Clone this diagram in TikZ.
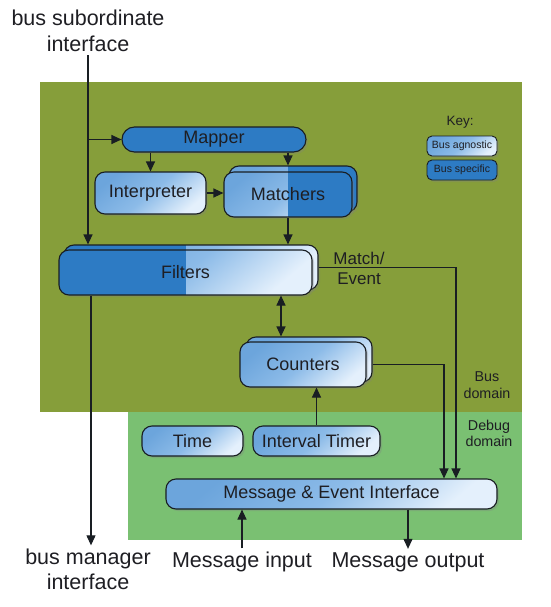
\documentclass[tikz,border=0pt]{standalone}
\usepackage{fontspec}
\setmainfont{Liberation Sans}
\usetikzlibrary{shadows,arrows.meta}
\definecolor{olivebg}{RGB}{134,158,58}
\definecolor{dbgbg}{RGB}{122,192,114}
\definecolor{dkblue}{RGB}{45,123,196}
\definecolor{ltA}{RGB}{108,165,220}
\definecolor{ltM}{RGB}{140,187,232}
\definecolor{ltB}{RGB}{228,240,252}
\definecolor{edgec}{RGB}{25,30,35}
\definecolor{txt}{RGB}{30,30,35}
\begin{document}
\begin{tikzpicture}[x=1pt,y=-1pt,
  blk/.style={draw=edgec, line width=1.1pt, rounded corners=10pt, inner sep=0pt, text=txt,
    font=\fontsize{18}{21}\selectfont,
    drop shadow={opacity=0.3, shadow xshift=2pt, shadow yshift=-2pt}},
  light/.style={blk, top color=ltA, bottom color=ltB, middle color=ltM, shading angle=40},
  dark/.style={blk, fill=dkblue},
  keybox/.style={rounded corners=5pt, minimum width=70pt, minimum height=20pt, line width=0.9pt,
    font=\fontsize{10.5}{12}\selectfont},
  outer/.style={align=center, text=txt, font=\fontsize{21.5}{25.5}\selectfont},
  dom/.style={align=center, text=txt, font=\fontsize{14.3}{16.5}\selectfont},
  arr/.style={draw=edgec, line width=1.1pt, -{Triangle[length=10pt,width=9pt]}},
  darr/.style={draw=edgec, line width=1.1pt, {Triangle[length=10pt,width=9pt]}-{Triangle[length=10pt,width=9pt]}}
]
\useasboundingbox (0,0) rectangle (550,607);
\fill[olivebg] (40,82) rectangle (522,412);
\fill[dbgbg] (128,412) rectangle (522,540);

% outer labels
\node[outer] (sub) at (88,31) {bus subordinate\\interface};
\node[outer] (mgr) at (88,569.5) {bus manager\\interface};
\node[outer] (minp) at (242,562) {Message input};
\node[outer] (mout) at (408,562) {Message output};

% blocks
\node[dark, rounded corners=12.5pt, minimum width=184pt, minimum height=25pt] (mapper) at (214,139.5) {Mapper};
\node[light, minimum width=111pt, minimum height=42pt] (interp) at (150.5,193) {Interpreter};
\node[light, minimum width=128pt, minimum height=46pt,
  path picture={\fill[dkblue, sharp corners] ([xshift=-5pt]path picture bounding box.north) rectangle (path picture bounding box.south east);}] (matchersB) at (293,189) {};
\node[light, minimum width=128pt, minimum height=45pt,
  path picture={\fill[dkblue, sharp corners] (path picture bounding box.north) rectangle (path picture bounding box.south east);}] (matchers) at (288,194.5) {Matchers};
\node[light, minimum width=254pt, minimum height=45pt,
  path picture={\fill[dkblue, sharp corners] (path picture bounding box.south west) rectangle ([xshift=-5pt]path picture bounding box.north);}] (filtersB) at (191,267.5) {};
\node[light, minimum width=253pt, minimum height=45pt,
  path picture={\fill[dkblue, sharp corners] (path picture bounding box.south west) rectangle (path picture bounding box.north);}] (filters) at (185.5,272.5) {Filters};
\node[light, minimum width=126pt, minimum height=45pt] (countersB) at (309,359.5) {};
\node[light, minimum width=126pt, minimum height=45pt] (counters) at (303,364.5) {Counters};
\node[light, minimum width=101pt, minimum height=30pt] (time) at (192.5,441) {Time};
\node[light, minimum width=127pt, minimum height=30pt] (itimer) at (316.5,441) {Interval Timer};
\node[light, minimum width=331pt, minimum height=30pt] (mei) at (331.5,494) {Message \& Event Interface};

% key
\node[text=txt, font=\fontsize{13.5}{16}\selectfont] (key) at (460,122) {Key:};
\node[light, keybox] (kag) at (462,146) {Bus agnostic};
\node[dark, keybox] (ksp) at (462,170) {Bus specific};

% domain labels
\node[dom] (busd) at (487,385) {Bus\\domain};
\node[dom] (dbgd) at (489,433.5) {Debug\\domain};
\node[text=txt, align=center, font=\fontsize{17}{20}\selectfont] (me) at (359,268) {Match/\\Event};

% connectors
\draw[arr] (sub.south) -- (sub.south |- filtersB.north);
\draw[arr] (sub.south |- mapper.west) -- (mapper.west);
\draw[arr] (interp.north |- mapper.south) -- (interp.north);
\draw[arr] (matchers.north |- mapper.south) -- (matchers.north |- matchersB.north);
\draw[arr] (interp.east) -- (interp.east -| matchers.west);
\draw[arr] (matchers.south) -- (matchers.south |- filtersB.north);
\coordinate (fc) at ([xshift=-22pt]counters.north);
\draw[darr] (fc |- filters.south) -- (fc |- countersB.north);
\coordinate (mgx) at ([xshift=3pt]mgr.north);
\draw[arr] (mgx |- filters.south) -- (mgx);
\coordinate (meA) at ([xshift=124.5pt]mei.north);
\coordinate (meB) at ([xshift=112.5pt]mei.north);
\draw[arr] (filtersB.east) -| (meA);
\draw[arr] (counters.east -| countersB.east) -| (meB);
\draw[arr] (itimer.north) -- (itimer.north |- counters.south);
\draw[arr] (minp.north) -- (minp.north |- mei.south);
\draw[arr] (mout.north |- mei.south) -- (mout.north);
\end{tikzpicture}
\end{document}
